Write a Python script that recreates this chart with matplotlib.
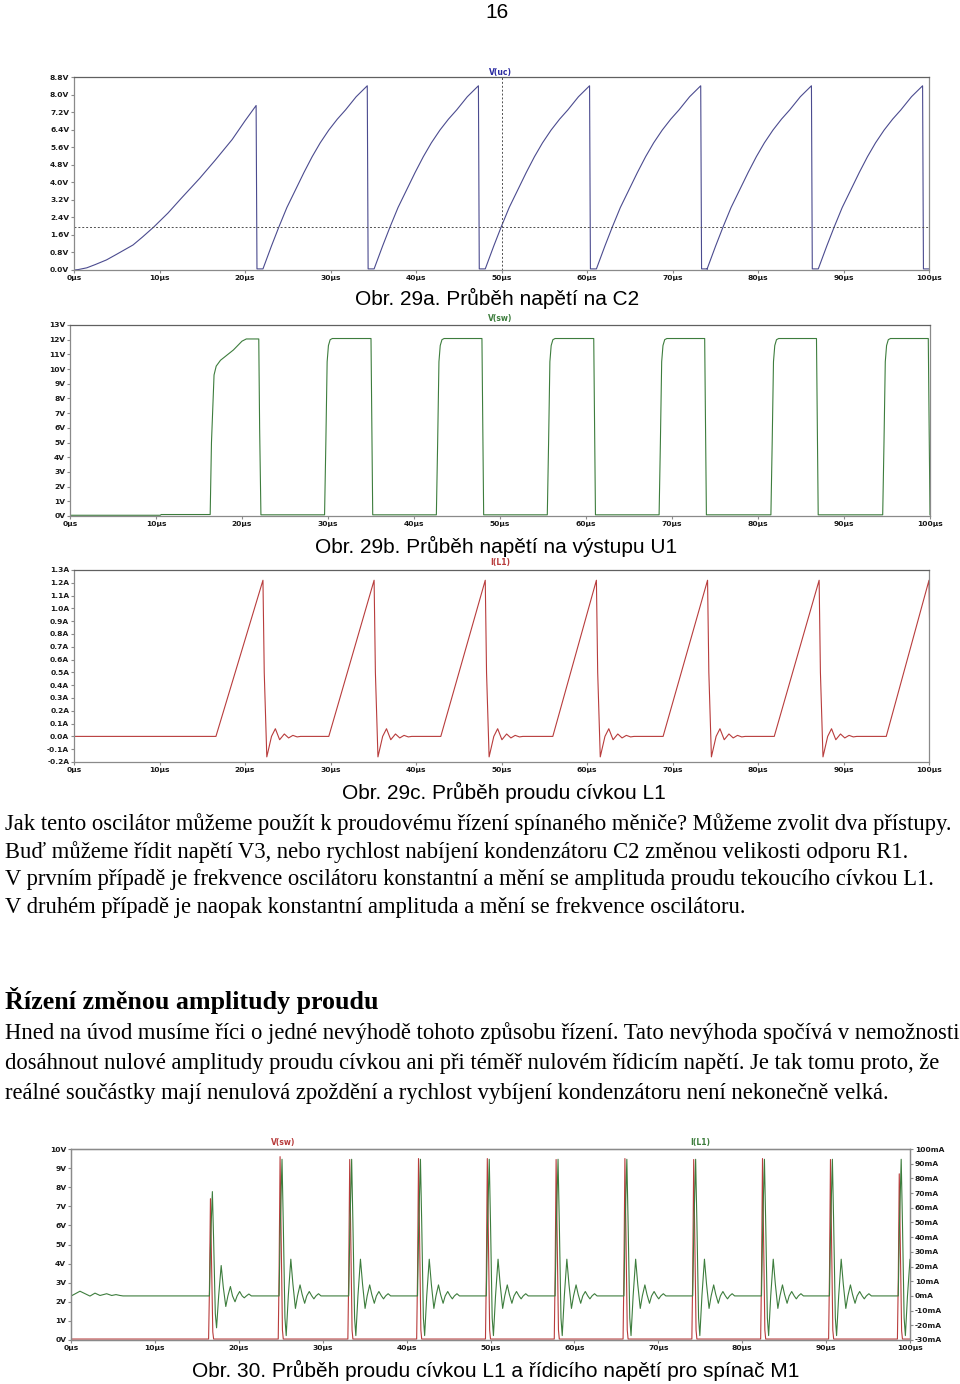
import matplotlib
matplotlib.use("Agg")
import matplotlib.pyplot as plt

W, H = 960, 1384

# ---- shared time axis ----
time_ticks = [0, 10, 20, 30, 40, 50, 60, 70, 80, 90, 100]
time_labels = ["0µs", "10µs", "20µs", "30µs", "40µs", "50µs",
               "60µs", "70µs", "80µs", "90µs", "100µs"]

# ---- Obr. 29a: V(uc) ----
uc_first_t = [0.0, 0.5, 1.5, 2.5, 3.8, 5.0, 6.9, 8.0, 9.3, 11.0, 12.5,
              14.7, 16.5, 18.5, 20.0, 21.3, 21.4, 22.1]
uc_first_v = [0.0, 0.02, 0.1, 0.25, 0.46, 0.72, 1.14, 1.5, 1.95, 2.6, 3.25,
              4.18, 5.0, 5.95, 6.8, 7.5, 0.05, 0.05]
uc_ramp_dt = [0.0, 1.0, 1.86, 2.8, 3.8, 4.8, 5.76, 6.7, 7.7, 8.7, 9.66,
              10.9, 12.2, 12.3, 13.0]
uc_ramp_v = [0.05, 1.1, 1.96, 2.85, 3.65, 4.45, 5.17, 5.8, 6.38, 6.88, 7.3,
             7.9, 8.4, 0.05, 0.05]
uc_ramp_start = [22.1, 35.1, 48.1, 61.1, 74.05, 87.05]
uc_threshold = 1.96
uc_cursor = 50
uc_yticks = [0.0, 0.8, 1.6, 2.4, 3.2, 4.0, 4.8, 5.6, 6.4, 7.2, 8.0, 8.8]
uc_ylabels = ["0.0V", "0.8V", "1.6V", "2.4V", "3.2V", "4.0V",
              "4.8V", "5.6V", "6.4V", "7.2V", "8.0V", "8.8V"]

# ---- Obr. 29b: V(sw) ----
sw_first_t = [0.0, 10.5, 10.6, 16.3, 16.45, 16.75, 17.0, 17.5, 19.0, 20.0,
              20.5, 21.95, 22.05, 22.2]
sw_first_v = [0.05, 0.05, 0.1, 0.1, 5.0, 9.6, 10.2, 10.6, 11.3, 11.9,
              12.05, 12.05, 6.0, 0.08]
sw_rise_dt = [0.0, 0.15, 0.3, 0.45, 0.65, 0.9]
sw_rise_v = [0.08, 5.0, 10.5, 11.6, 12.0, 12.08]
sw_fall_dt = [0.0, 0.1, 0.2]
sw_fall_v = [12.08, 6.0, 0.08]
sw_rise = [29.6, 42.6, 55.5, 68.5, 81.5, 94.5]
sw_fall = [35.0, 47.9, 60.9, 73.8, 86.8, 99.8]
sw_yticks = list(range(0, 14))
sw_ylabels = [f"{v}V" for v in sw_yticks]

# ---- Obr. 29c: I(L1) ----
il_ramp_start = [16.6, 29.8, 42.9, 56.0, 68.9, 81.9, 95.0]
il_peak_t = [22.1, 35.1, 48.1, 61.1, 74.1, 87.15, 100.0]
il_peak = 1.22
il_ring_dt = [0.0, 0.15, 0.45, 1.0, 1.45, 1.95, 2.5, 3.0, 3.5, 4.0, 4.4]
il_ring_a = [1.22, 0.5, -0.16, 0.0, 0.06, -0.026, 0.019, -0.012, 0.008, -0.004, 0.0]
il_yticks = [-0.2, -0.1, 0.0, 0.1, 0.2, 0.3, 0.4, 0.5, 0.6, 0.7, 0.8,
             0.9, 1.0, 1.1, 1.2, 1.3]
il_ylabels = ["-0.2A", "-0.1A", "0.0A", "0.1A", "0.2A", "0.3A", "0.4A", "0.5A",
              "0.6A", "0.7A", "0.8A", "0.9A", "1.0A", "1.1A", "1.2A", "1.3A"]

# ---- Obr. 30: V(sw) + I(L1) ----
pulse_t0 = [16.4, 24.7, 33.0, 41.2, 49.4, 57.6, 65.8, 74.0, 82.2, 90.3, 98.5]
red_peak = [7.4, 9.6, 9.45, 9.5, 9.5, 9.45, 9.5, 9.45, 9.5, 9.45, 8.7]
red_base = 0.05
red_dt = [0.0, 0.1, 0.22, 0.35, 0.5, 0.6]
red_frac = [0.0, 0.35, 1.0, 0.55, 0.05, 0.0]
ring_dt = [0.0, 0.1, 0.25, 0.45, 0.6, 0.8, 0.95, 1.2, 1.5, 1.75, 2.05, 2.3,
           2.6, 2.85, 3.15, 3.4, 3.7, 4.0, 4.25, 4.5, 4.8, 5.1, 5.4]
ring_ma = [0, 0, 50, 93, 50, -15, -27, 0, 25, 8, -8.5, 0,
           7.5, 1, -5, 0, 3, 0, -2, 0, 1.5, 0, 0]
ring_ma_first = [0, 0, 40, 71, 38, -12, -21.7, 0, 20.7, 6, -7.2, 0,
                 6.4, 0, -4, 0, 3, 0, -1.3, 0, 1.3, 0, 0]
i4_start_t = [0.0, 1.07, 2.26, 2.86, 3.46, 4.25, 4.85, 5.36, 5.84, 6.2]
i4_start_ma = [-0.1, 3.2, -0.1, 1.9, 0.3, 1.5, 0.3, 0.9, 0.3, 0.0]
v4_yticks = list(range(0, 11))
v4_ylabels = [f"{v}V" for v in v4_yticks]
i4_yticks = list(range(-30, 101, 10))
i4_ylabels = [f"{v}mA" for v in i4_yticks]

# ---- texts ----
page_no = "16"
cap_a = "Obr. 29a. Průběh napětí na C2"
cap_b = "Obr. 29b. Průběh napětí na výstupu U1"
cap_c = "Obr. 29c. Průběh proudu cívkou L1"
cap_30 = "Obr. 30. Průběh proudu cívkou L1 a řídicího napětí pro spínač M1"
para1 = [
    "Jak tento oscilátor můžeme použít k proudovému řízení spínaného měniče? Můžeme zvolit dva přístupy.",
    "Buď můžeme řídit napětí V3, nebo rychlost nabíjení kondenzátoru C2 změnou velikosti odporu R1.",
    "V prvním případě je frekvence oscilátoru konstantní a mění se amplituda proudu tekoucího cívkou L1.",
    "V druhém případě je naopak konstantní amplituda a mění se frekvence oscilátoru.",
]
heading = "Řízení změnou amplitudy proudu"
para2 = [
    "Hned na úvod musíme říci o jedné nevýhodě tohoto způsobu řízení. Tato nevýhoda spočívá v nemožnosti",
    "dosáhnout nulové amplitudy proudu cívkou ani při téměř nulovém řídicím napětí. Je tak tomu proto, že",
    "reálné součástky mají nenulová zpoždění a rychlost vybíjení kondenzátoru není nekonečně velká.",
]

frame_color = "#8a8a8a"
blue = "#4b4b8f"
green = "#3d7d3d"
red = "#b83c3c"
tick_size = 5.4


def ax_at(fig, left, top, right, bottom):
    return fig.add_axes([left / W, 1 - bottom / H, (right - left) / W, (bottom - top) / H])


def style(ax, ylim, yticks, ylabels):
    ax.set_xlim(0, 100)
    ax.set_ylim(*ylim)
    ax.set_xticks(time_ticks)
    ax.set_xticklabels(time_labels)
    ax.set_yticks(yticks)
    ax.set_yticklabels(ylabels)
    for sp in ax.spines.values():
        sp.set_color(frame_color)
        sp.set_linewidth(0.9)
    ax.spines["top"].set_color("#606060")
    ax.tick_params(direction="out", length=2.5, width=0.8, color=frame_color,
                   labelsize=tick_size, pad=1, labelcolor="#1a1a1a")
    for lab in ax.get_xticklabels() + ax.get_yticklabels():
        lab.set_fontweight("bold")


def ftext(fig, x, y, s, **kw):
    return fig.text(x / W, 1 - y / H, s, **kw)


fig = plt.figure(figsize=(W / 100, H / 100), dpi=100)

# ---------- Obr. 29a ----------
t, v = list(uc_first_t), list(uc_first_v)
for s in uc_ramp_start:
    t += [s + d for d in uc_ramp_dt]
    v += uc_ramp_v
ax1 = ax_at(fig, 74, 77, 929, 270)
ax1.plot(t, v, color=blue, lw=0.8)
ax1.axhline(uc_threshold, color="#505050", lw=0.7, ls=(0, (2, 2)))
ax1.axvline(uc_cursor, color="#505050", lw=0.7, ls=(0, (2, 2)))
style(ax1, (0, 8.8), uc_yticks, uc_ylabels)
ftext(fig, 500, 72, "V(uc)", color="#2a2aa0", fontsize=5.5, weight="bold",
      ha="center", va="center")

# ---------- Obr. 29b ----------
t, v = list(sw_first_t), list(sw_first_v)
for r, f in zip(sw_rise, sw_fall):
    t += [r + d for d in sw_rise_dt] + [f + d for d in sw_fall_dt]
    v += sw_rise_v + sw_fall_v
ax2 = ax_at(fig, 70, 325, 930, 516)
ax2.plot(t, v, color=green, lw=0.8)
style(ax2, (0, 13), sw_yticks, sw_ylabels)
ftext(fig, 500, 319, "V(sw)", color=green, fontsize=5.5, weight="bold",
      ha="center", va="center")

# ---------- Obr. 29c ----------
t, v = [0.0], [0.0]
for s, p in zip(il_ramp_start, il_peak_t):
    t += [s, p] + [p + d for d in il_ring_dt[1:]]
    v += [0.0, il_peak] + il_ring_a[1:]
ax3 = ax_at(fig, 74, 570, 929, 762)
ax3.plot(t, v, color=red, lw=0.8)
style(ax3, (-0.2, 1.3), il_yticks, il_ylabels)
ftext(fig, 500, 563, "I(L1)", color=red, fontsize=5.5, weight="bold",
      ha="center", va="center")

# ---------- Obr. 30 ----------
ax4 = ax_at(fig, 71, 1149, 910, 1340)
tr, vr = [0.0], [red_base]
for t0, pk in zip(pulse_t0, red_peak):
    tr += [t0 + d for d in red_dt]
    vr += [red_base + fr * (pk - red_base) for fr in red_frac]
tr.append(100.0)
vr.append(red_base)
ax4.plot(tr, vr, color=red, lw=0.8)
style(ax4, (0, 10), v4_yticks, v4_ylabels)

ax4r = ax4.twinx()
tg, vg = list(i4_start_t), list(i4_start_ma)
for i, t0 in enumerate(pulse_t0):
    shape = ring_ma_first if i == 0 else ring_ma
    tg += [t0 + d for d in ring_dt]
    vg += shape
ax4r.plot(tg, vg, color=green, lw=0.8)
ax4r.set_ylim(-30, 100)
ax4r.set_yticks(i4_yticks)
ax4r.set_yticklabels(i4_ylabels)
for sp in ax4r.spines.values():
    sp.set_color(frame_color)
    sp.set_linewidth(0.9)
ax4r.tick_params(direction="out", length=2.5, width=0.8, color=frame_color,
                 labelsize=tick_size, pad=1, labelcolor="#1a1a1a")
for lab in ax4r.get_yticklabels():
    lab.set_fontweight("bold")
ftext(fig, 283, 1143, "V(sw)", color=red, fontsize=5.5, weight="bold",
      ha="center", va="center")
ftext(fig, 700, 1143, "I(L1)", color=green, fontsize=5.5, weight="bold",
      ha="center", va="center")

# ---------- page texts ----------
renderer = fig.canvas.get_renderer()


def fitted_size(s, width, **kw):
    t = fig.text(0, 0, s, fontsize=10, **kw)
    w = t.get_window_extent(renderer).width
    t.remove()
    return 10 * width / w


sans = "Liberation Sans"
serif = "Liberation Serif"
cap_size = fitted_size(cap_a, 285, family=sans)
body_size = fitted_size(para1[3], 740, family=serif)
head_size = fitted_size(heading, 375, family=serif, weight="bold")

ftext(fig, 497, 12, page_no, family=sans, fontsize=cap_size, ha="center", va="center")
ftext(fig, 497, 298, cap_a, family=sans, fontsize=cap_size, ha="center", va="center")
ftext(fig, 496, 546, cap_b, family=sans, fontsize=cap_size, ha="center", va="center")
ftext(fig, 504, 792, cap_c, family=sans, fontsize=cap_size, ha="center", va="center")
ftext(fig, 496, 1370, cap_30, family=sans, fontsize=cap_size, ha="center", va="center")

for i, line in enumerate(para1):
    ftext(fig, 5, 824 + i * 27.7, line, family=serif, fontsize=body_size,
          ha="left", va="center")
ftext(fig, 5, 1000, heading, family=serif, fontsize=head_size, weight="bold",
      ha="left", va="center")
for i, line in enumerate(para2):
    ftext(fig, 5, 1033 + i * 30, line, family=serif, fontsize=body_size,
          ha="left", va="center")

fig.savefig("out.png", dpi=100)
